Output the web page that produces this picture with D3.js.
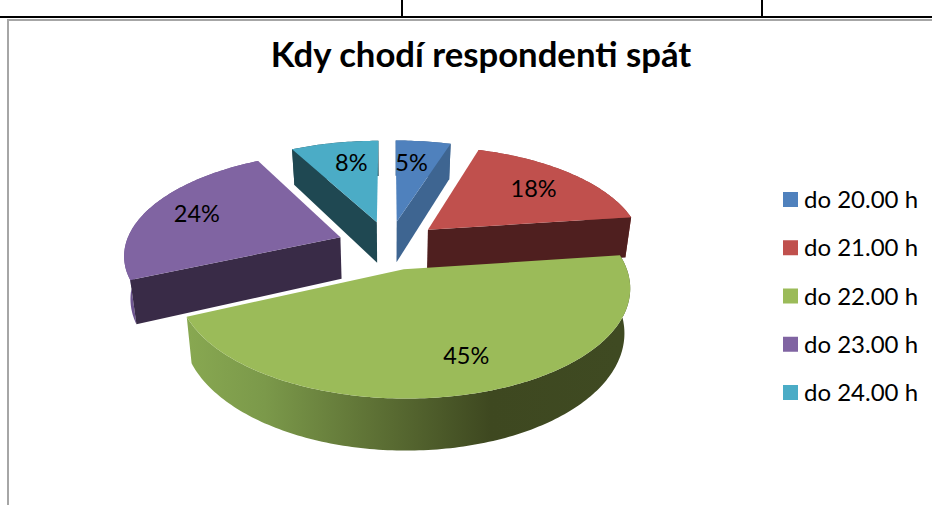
<!DOCTYPE html>
<html><head><meta charset="utf-8">
<script src="https://cdn.jsdelivr.net/npm/d3@7/dist/d3.min.js"></script>
<style>html,body{margin:0;padding:0;background:#fff;overflow:hidden}svg{display:block}</style>
</head><body><svg id="c" width="932" height="505"></svg>
<script>
const titleText = "Kdy chodí respondenti spát";
const categories = ["do 20.00 h","do 21.00 h","do 22.00 h","do 23.00 h","do 24.00 h"];
const values = [4.9,18,45.4,23.9,7.8];
const topColors = ["#4f81bd","#c0504d","#9bbb59","#8064a2","#4bacc6"];
const cutColors = ["#3e6591","#4f1f1f","#556b2f","#392b47","#1f4852"];
const wallColors = ["#3e6591","#8f3c3a","#3f4a22","#6d5490","#1f4852"];
const labelRadius = [0.70,0.72,0.745,0.75,0.71];
const labelNudge = [-2,0,-3,0,2.5];
const wallStops = [[0,"#88a851"],[0.18,"#7b994a"],[0.42,"#5f7336"],[0.70,"#3e4820"],[1,"#3f4a22"]];

const W=932,H=505;
const svg=d3.select("#c");
const FONT="Lato, Carlito, Calibri, sans-serif";

// frame
const frame=svg.append("g");
frame.append("rect").attr("x",0).attr("y",16).attr("width",W).attr("height",2).attr("fill","#000");
[402,762].forEach(x=>frame.append("rect").attr("x",x-1).attr("y",0).attr("width",2).attr("height",17).attr("fill","#000"));
frame.append("rect").attr("x",7).attr("y",19).attr("width",W-7).attr("height",2).attr("fill","#a6a6a6");
frame.append("rect").attr("x",7).attr("y",19).attr("width",2).attr("height",H-19).attr("fill","#a6a6a6");

// 3D projection
const cx=389,cy=245,R=215,tilt=0.468,persp=0.156,explode=52,depth=42,conv=0.024;
function project(X,Y,z){
  const s=1/(1-persp*Y/R);
  const t=1-conv*z;
  return [cx+X*s*t, cy+Y*tilt*s+z*depth*s];
}
const pie=d3.pie().sort(null).startAngle(0).endAngle(2*Math.PI);
const arcs=pie(values);
const lineGen=d3.line();
const deg=Math.PI/180;
function slicePoint(d,a,r,z){
  const mid=(d.startAngle+d.endAngle)/2;
  const ox=explode*Math.sin(mid), oy=-explode*Math.cos(mid);
  return project(ox+r*Math.sin(a), oy-r*Math.cos(a), z);
}
function arcAngles(d){
  const n=Math.max(2,Math.ceil((d.endAngle-d.startAngle)/deg));
  return d3.range(n+1).map(i=>d.startAngle+(d.endAngle-d.startAngle)*i/n);
}

const defs=svg.append("defs");
const gLeft=slicePoint(arcs[2],arcs[2].endAngle,R,0)[0];
const gRight=slicePoint(arcs[2],arcs[2].startAngle,R,0)[0];
const grad=defs.append("linearGradient").attr("id","wall").attr("gradientUnits","userSpaceOnUse")
  .attr("x1",gLeft).attr("x2",gRight).attr("y1",0).attr("y2",0);
wallStops.forEach(s=>grad.append("stop").attr("offset",s[0]).attr("stop-color",s[1]));

const order=[4,0,1,3,2];
const pieG=svg.append("g");
order.forEach(i=>{
  const d=arcs[i], g=pieG.append("g");
  const angs=arcAngles(d);
  // outer wall
  const topArc=angs.map(a=>slicePoint(d,a,R,0));
  const botArc=angs.map(a=>slicePoint(d,a,R,1)).reverse();
  g.append("path").attr("d",lineGen(topArc.concat(botArc))+"Z")
    .attr("fill",i===2?"url(#wall)":wallColors[i]);
  // cut faces visible to the viewer
  [[d.startAngle,-1],[d.endAngle,1]].forEach(([a,sgn])=>{
    const n=a+sgn*Math.PI/2;
    if(-Math.cos(n)>1e-6){
      const pts=[slicePoint(d,a,0,0),slicePoint(d,a,R,0),slicePoint(d,a,R,1),slicePoint(d,a,0,1)];
      g.append("path").attr("d",lineGen(pts)+"Z").attr("fill",cutColors[i]);
    }
  });
  // top
  const apex=slicePoint(d,0,0,0);
  g.append("path").attr("d",lineGen([apex].concat(topArc))+"Z").attr("fill",topColors[i]);
});

// data labels
const labelG=svg.append("g");
arcs.forEach((d,i)=>{
  const mid=(d.startAngle+d.endAngle)/2+labelNudge[i]*deg;
  const p=slicePoint(d,mid,R*labelRadius[i],0);
  labelG.append("text").attr("x",p[0]).attr("y",p[1]).attr("dy","0.35em")
    .attr("text-anchor","middle").attr("font-family",FONT).attr("font-size",23.5).attr("fill","#000")
    .text(d3.format(".0%")(values[i]/100));
});

// title
svg.append("text").attr("x",481).attr("y",67).attr("text-anchor","middle")
  .attr("font-family",FONT).attr("font-weight",700).attr("font-size",34.7).attr("fill","#000").text(titleText);

// legend
const legY=d3.scalePoint().domain(categories).range([199.5,392.5]);
const leg=svg.append("g");
categories.forEach((c,i)=>{
  leg.append("rect").attr("x",783).attr("y",legY(c)-7.5).attr("width",15).attr("height",15).attr("fill",topColors[i]);
  leg.append("text").attr("x",804).attr("y",legY(c)).attr("dy","0.36em")
    .attr("font-family",FONT).attr("font-size",24).attr("fill","#000").text(c);
});
</script></body></html>
